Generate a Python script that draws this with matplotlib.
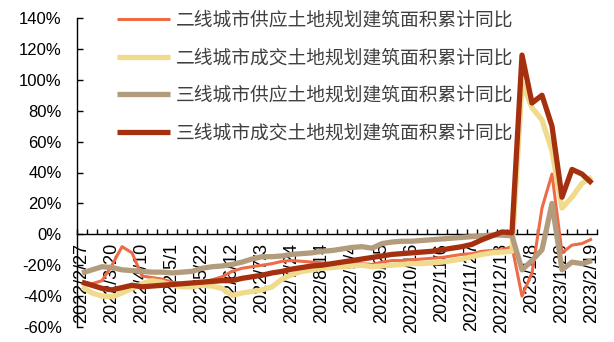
import matplotlib
matplotlib.use("Agg")
import matplotlib.pyplot as plt
import numpy as np

plt.rcParams['font.family'] = ['Liberation Sans', 'Noto Sans CJK SC', 'DejaVu Sans']

dates = ["2022/2/27", "2022/3/6", "2022/3/13", "2022/3/20", "2022/3/27", "2022/4/3",
         "2022/4/10", "2022/4/17", "2022/4/24", "2022/5/1", "2022/5/8", "2022/5/15",
         "2022/5/22", "2022/5/29", "2022/6/5", "2022/6/12", "2022/6/19", "2022/6/26",
         "2022/7/3", "2022/7/10", "2022/7/17", "2022/7/24", "2022/7/31", "2022/8/7",
         "2022/8/14", "2022/8/21", "2022/8/28", "2022/9/4", "2022/9/11", "2022/9/18",
         "2022/9/25", "2022/10/2", "2022/10/9", "2022/10/16", "2022/10/23", "2022/10/30",
         "2022/11/6", "2022/11/13", "2022/11/20", "2022/11/27", "2022/12/4", "2022/12/11",
         "2022/12/18", "2022/12/25", "2023/1/1", "2023/1/8", "2023/1/15", "2023/1/22",
         "2023/1/29", "2023/2/5", "2023/2/12", "2023/2/19"]

tier2_supply = [-31, -32, -30, -20, -8, -12, -27, -28, -29, -31, -32, -31.5, -31, -29.5,
                -27.5, -24, -22, -21, -20, -19, -17.5, -17, -17.5, -18, -18.5, -19, -19.5,
                -19, -19, -19.5, -18, -17, -17, -16.5, -16, -15.5, -15, -14, -13, -12.5,
                -11, -10.5, -10, -8, -40, -25, 17, 39, -12, -7, -6, -3]
tier2_deal = [-34, -38, -40, -40.5, -38, -35, -32, -30, -31, -33, -34, -34, -33, -33.5,
              -35, -39.5, -38, -37, -36, -34, -29, -26, -24, -23, -22, -21.5, -21, -20.5,
              -20, -21, -20.5, -20, -19.5, -19, -19, -18.5, -18, -17, -16, -14.5, -13,
              -12, -11.5, -11, 98, 82, 74, 54, 17, 24, 33, 37]
tier3_supply = [-25, -23, -21, -21.5, -23, -23.5, -24, -24.5, -24.5, -25, -24.5, -24, -22,
                -21, -20.5, -19.5, -18, -16, -14.5, -14.5, -14, -13, -12.5, -12, -11, -10.5,
                -9.5, -8.5, -8, -9, -6, -5, -4.5, -4.5, -4, -3.5, -3, -2.5, -2, -1.5, -1,
                -0.5, -0.5, -1, -23, -17, -10, 20, -23, -18, -19, -17]
tier3_deal = [-31, -33, -35, -36, -34.5, -33, -34, -33.5, -33, -32.5, -32, -31.5, -31,
              -30.5, -30, -30, -28.5, -27.5, -26.5, -25, -24, -22.5, -21.5, -20.5, -20, -19,
              -18, -17, -16, -15, -14, -13, -12.5, -12, -11.5, -11, -10, -9, -8, -6.5, -3.5,
              -1, 1.5, 1, 116, 85, 90, 70, 24, 42, 39, 33]

names = ["二线城市供应土地规划建筑面积累计同比", "二线城市成交土地规划建筑面积累计同比",
         "三线城市供应土地规划建筑面积累计同比", "三线城市成交土地规划建筑面积累计同比"]
colors = ["#EE6B47", "#F0DA8C", "#B39C7D", "#A5300F"]
widths = [2.2, 3.8, 3.8, 3.8]
series = [tier2_supply, tier2_deal, tier3_supply, tier3_deal]

fig = plt.figure(figsize=(6.14, 3.42), dpi=100)
ax = fig.add_axes([77/614, 1-327/342, (597-77)/614, (327-18)/342])

x = np.arange(len(dates))
for s, c, w, n in zip(series, colors, widths, names):
    ax.plot(x, s, color=c, lw=w, label=n, solid_joinstyle='round',
            solid_capstyle='butt', zorder=3)

ax.set_xlim(-0.5, len(dates) - 0.5)
ax.set_ylim(-60, 140)
ax.set_yticks(np.arange(-60, 141, 20))
ax.set_yticklabels([f"{v}%" for v in range(-60, 141, 20)])

ax.spines['top'].set_visible(False)
ax.spines['right'].set_visible(False)
ax.spines['bottom'].set_position(('data', 0))
for sp in ['left', 'bottom']:
    ax.spines[sp].set_linewidth(1.0)
    ax.spines[sp].set_color('black')

ax.set_xticks(x[::3])
ax.set_xticklabels(dates[::3], rotation=90, va='top', ha='center')
ax.set_xticks(np.arange(-0.5, len(dates), 1), minor=True)
ax.tick_params(axis='x', which='major', length=0, pad=6, labelsize=13)
ax.tick_params(axis='x', which='minor', direction='in', length=3.5, width=1)
ax.tick_params(axis='y', direction='in', length=4.5, width=1, pad=11, labelsize=12)

fs = 13.5
leg = ax.legend(loc='upper left', bbox_to_anchor=(117/614, 1-10/342),
                bbox_transform=fig.transFigure, frameon=False, borderpad=0,
                borderaxespad=0, handlelength=2.8, handletextpad=0.32,
                labelspacing=0.88, prop={'family': ['Noto Sans CJK SC'], 'size': fs})
for t in leg.get_texts():
    t.set_color('#404040')

fig.savefig("out.png", dpi=100)
